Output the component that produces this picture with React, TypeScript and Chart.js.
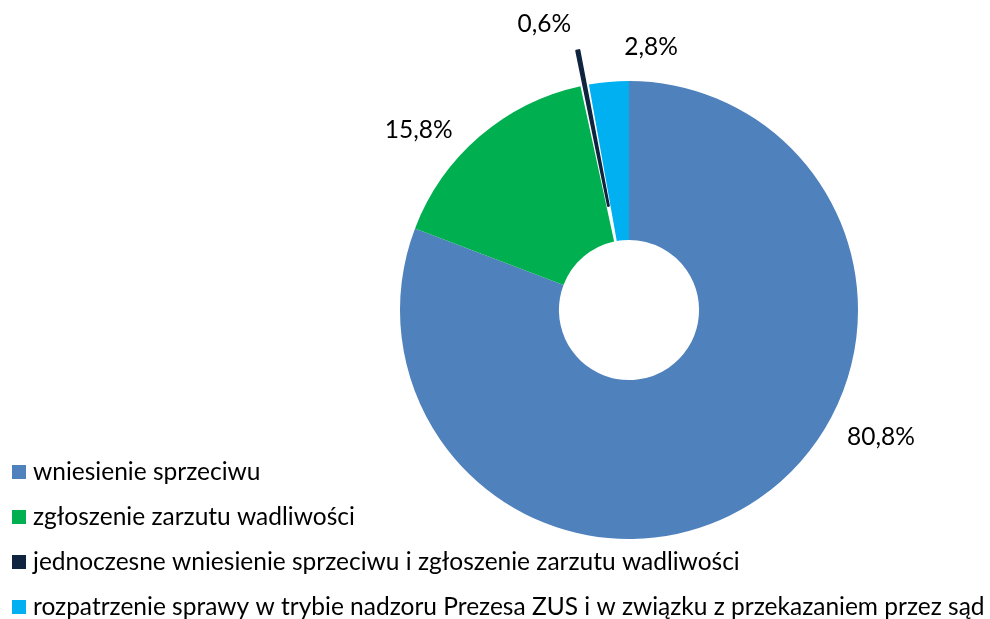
import React, { useEffect, useRef } from "react";
import { Chart, registerables } from "chart.js";

Chart.register(...registerables);

const categories = [
  "wniesienie sprzeciwu",
  "zgłoszenie zarzutu wadliwości",
  "jednoczesne wniesienie sprzeciwu i zgłoszenie zarzutu wadliwości",
  "rozpatrzenie sprawy w trybie nadzoru Prezesa ZUS i w związku z przekazaniem przez sąd",
];
const shares = [80.8, 15.8, 0.6, 2.8];
const valueLabels = ["80,8%", "15,8%", "0,6%", "2,8%"];
const colors = ["#4F81BD", "#00B050", "#0F243E", "#00B0F0"];
// Chart.js moves an arc by about half of its "offset" value
const explode = [0, 0, 73, 0];
const sliceBorder = [0, 0, 1.5, 0];
// label placement: [angle in degrees clockwise from top, distance from centre]
const labelPolar = [
  [116.7, 282],
  [310.6, 277],
  [343.5, 298],
  [4.8, 264],
];

const FONT = "24.5px Lato, 'Open Sans', sans-serif";

const labelPlugin = {
  id: "labelsAndLegend",
  afterDraw(chart: any) {
    const ctx = chart.ctx;
    const meta = chart.getDatasetMeta(0);
    const base = meta.data[0];
    const cx = base.x;
    const cy = base.y;
    ctx.save();
    ctx.font = FONT;
    ctx.fillStyle = "#000";
    ctx.textAlign = "center";
    ctx.textBaseline = "middle";
    valueLabels.forEach((t, i) => {
      const a = (labelPolar[i][0] * Math.PI) / 180;
      const r = labelPolar[i][1];
      ctx.fillText(t, cx + r * Math.sin(a), cy - r * Math.cos(a));
    });
    // legend
    ctx.textAlign = "left";
    const top = 472;
    const step = 45;
    categories.forEach((c, i) => {
      const y = top + i * step;
      ctx.fillStyle = colors[i];
      ctx.fillRect(12, y - 7, 14, 14);
      ctx.fillStyle = "#000";
      ctx.fillText(c, 33, y);
    });
    ctx.restore();
  },
};

export default function App() {
  const ref = useRef<HTMLCanvasElement>(null);
  useEffect(() => {
    if (!ref.current) return;
    const chart = new Chart(ref.current, {
      type: "doughnut",
      data: {
        labels: categories,
        datasets: [
          {
            data: shares,
            backgroundColor: colors,
            borderColor: colors,
            borderWidth: sliceBorder,
            offset: explode,
          },
        ],
      },
      options: {
        responsive: false,
        animation: false,
        radius: 229,
        cutout: "30.6%",
        layout: { padding: { left: 400, right: 132, top: 80, bottom: 79 } },
        plugins: {
          legend: { display: false },
          tooltip: { enabled: false },
        },
      } as any,
      plugins: [labelPlugin],
    });
    return () => chart.destroy();
  }, []);
  return (
    <div style={{ position: "fixed", left: 0, top: 0, width: 990, height: 619, background: "#fff" }}>
      <canvas ref={ref} width={990} height={619} style={{ width: 990, height: 619 }} />
    </div>
  );
}
